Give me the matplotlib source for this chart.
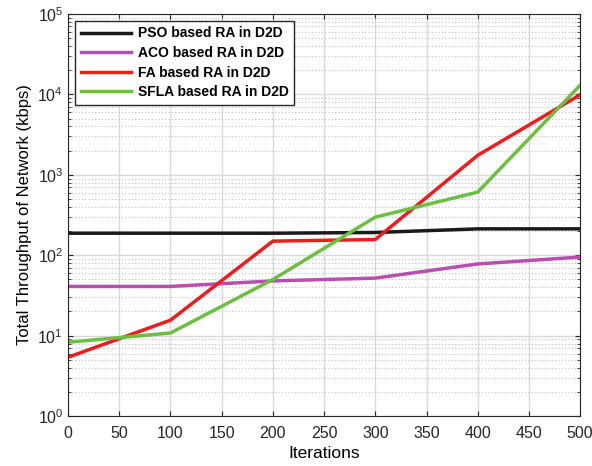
import numpy as np
import matplotlib.pyplot as plt

plt.rcParams['font.family'] = ['Liberation Sans', 'DejaVu Sans']

iterations = [0, 100, 200, 300, 400, 500]
pso = [188, 188, 188, 192, 213, 213]
aco = [41, 41, 48, 52, 78, 95]
fa = [5.4, 15.6, 150, 157, 1750, 9900]
sfla = [8.3, 10.8, 50, 298, 610, 13000]

labels = ['PSO based RA in D2D', 'ACO based RA in D2D', 'FA based RA in D2D', 'SFLA based RA in D2D']
colors = ['#1a1a1a', '#b84fb0', '#f01c1c', '#6cc040']

fig = plt.figure(figsize=(5.92, 4.66), dpi=100)
ax = fig.add_axes([0.115, 0.107, 0.865, 0.863])

for y, lab, c in zip([pso, aco, fa, sfla], labels, colors):
    ax.plot(iterations, y, color=c, lw=2.5, label=lab)

ax.set_yscale('log')
ax.set_xlim(0, 500)
ax.set_ylim(1, 1e5)
ax.set_xticks(np.arange(0, 501, 50))
ax.grid(True, which='major', color='#d9d9d9', lw=1)
ax.grid(True, which='minor', axis='y', color='#c0c0c0', lw=0.8, ls=(0, (1, 2)))
ax.set_axisbelow(True)
ax.tick_params(which='both', direction='in', top=True, right=True, labelsize=11.5, colors='#262626')
ax.tick_params(axis='x', pad=7)
for s in ax.spines.values():
    s.set_color('#262626')
ax.set_xlabel('Iterations', fontsize=12.5, labelpad=4)
ax.set_ylabel('Total Throughput of Network (kbps)', fontsize=12)

leg = ax.legend(loc='upper left', fontsize=10, fancybox=False, framealpha=1,
                edgecolor='#262626', handlelength=3.6, handletextpad=0.5,
                borderaxespad=0.5, labelspacing=0.4)
leg.get_frame().set_linewidth(1)
for t in leg.get_texts():
    t.set_fontweight('bold')

fig.savefig('out.png', dpi=100)
